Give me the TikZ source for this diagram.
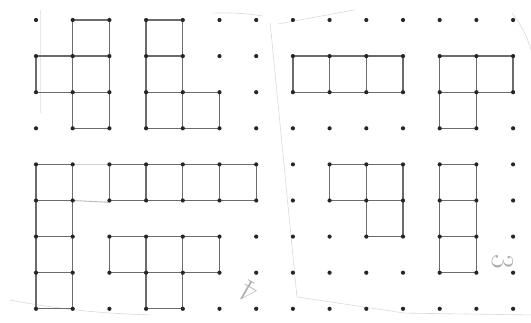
\documentclass[tikz,border=0pt]{standalone}
\usepackage{tikz}
\tikzset{
  gdot/.style={circle, fill=black!85, inner sep=0pt, minimum size=4.2pt},
  tileline/.style={draw=black!58, line width=1.3pt, line join=round},
  sheetline/.style={gray!30, line width=0.6pt},
  joinline/.style={gray!55, line width=0.9pt},
  numlabel/.style={gray!65, font=\fontsize{32}{32}\selectfont},
}
% one unit square of a piece, top left corner at (#1,#2)
\newcommand{\tile}[2]{\draw[tileline] (#1,#2) rectangle ++(1,1);}

\begin{document}
\begin{tikzpicture}[x=36.7pt,y=-36.1pt]
  \useasboundingbox (-0.981,-0.554) rectangle (13.488,8.366);
  % pencil lines of the sheet
  \draw[sheetline] (6.59,0.11) -- (8.69,-0.28);
  \draw[sheetline] (4.82,-0.19) to[bend left=5] (6.19,-0.11);
  \draw[sheetline] (6.38,0.08) -- (7.11,7.67) -- (10.05,8.12) -- (13.49,8.17);
  \draw[sheetline] (-0.71,7.76) to[bend right=4] (3.1,8.17);
  \draw[sheetline, gray!18] (0.11,-0.28) -- (0.11,2.58);
  \draw[sheetline] (12.97,-0.19) to[bend left=10] (13.49,0.83);
  % pieces, top left
  \foreach \px/\py in {1/0,0/1,1/1,1/2} {\tile{\px}{\py}}
  \foreach \px/\py in {3/0,3/1,3/2,4/2} {\tile{\px}{\py}}
  % pieces, top right
  \foreach \px/\py in {7/1,8/1,9/1} {\tile{\px}{\py}}
  \foreach \px/\py in {11/1,12/1,11/2} {\tile{\px}{\py}}
  % pieces, bottom left
  \foreach \px/\py in {0/4,0/5,0/6,0/7} {\tile{\px}{\py}}
  \foreach \px/\py in {2/4,3/4,4/4,5/4} {\tile{\px}{\py}}
  \foreach \px/\py in {2/6,3/6,4/6,3/7} {\tile{\px}{\py}}
  \draw[joinline, gray!35] (1,4) -- (2,4);
  \draw[joinline] (1,5) -- (2,5.05);
  % pieces, bottom right
  \foreach \px/\py in {8/4,9/4,9/5} {\tile{\px}{\py}}
  \foreach \px/\py in {11/4,11/5,11/6} {\tile{\px}{\py}}
  % dot grid
  \foreach \i in {0,...,13}
    \foreach \j in {0,...,8}
      \node[gdot] (p\i-\j) at (\i,\j) {};
  \node[numlabel, rotate=150] (n4) at (5.8,7.55) {4};
  \node[numlabel, rotate=-90] (n3) at (12.72,6.7) {3};
\end{tikzpicture}
\end{document}
